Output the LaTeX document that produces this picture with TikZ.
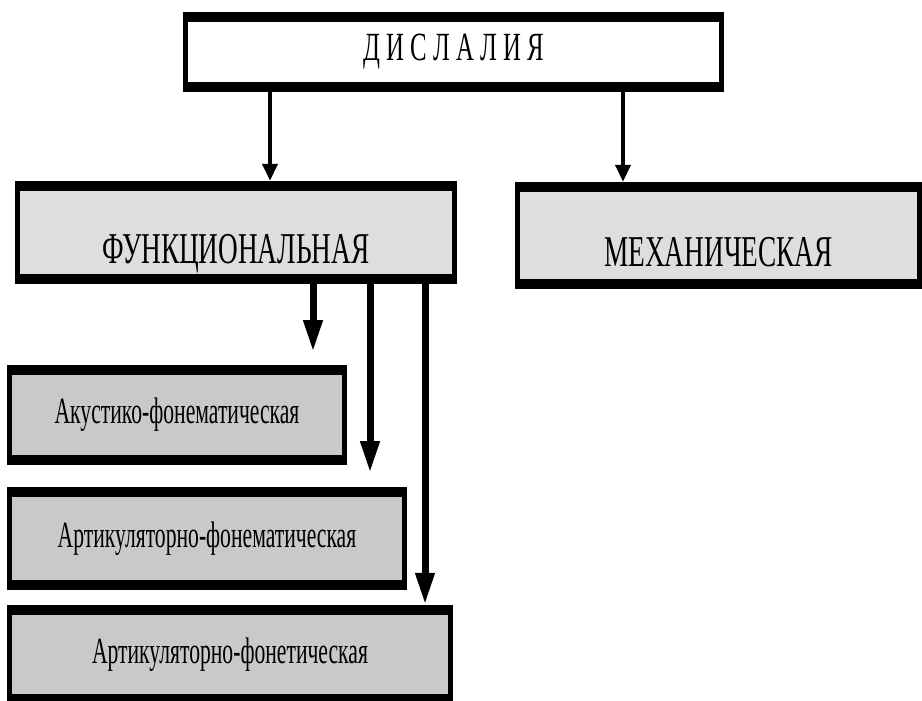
\documentclass[tikz,border=0pt]{standalone}
\usepackage{fontspec}
\setmainfont{Liberation Serif}
\newfontfamily\narrowserif[FakeStretch=0.62]{Liberation Serif}
\newfontfamily\narrowsmall[FakeStretch=0.585]{Liberation Serif}
\usetikzlibrary{arrows.meta}

\newlength{\du}
\setlength{\du}{1pt}

\definecolor{lightboxcolor}{rgb}{0.870000, 0.870000, 0.870000}
\definecolor{darkboxcolor}{rgb}{0.790000, 0.790000, 0.790000}

\tikzset{
  dlbox/.style={rectangle, fill=black, inner sep=0pt,
    path picture={\fill[#1] ([xshift=5\du,yshift=-10\du]path picture bounding box.north west)
      rectangle ([xshift=-5\du,yshift=10\du]path picture bounding box.south east);}},
  bigtext/.style={font=\narrowserif\fontsize{44\du}{44\du}\selectfont},
  smalltext/.style={font=\narrowsmall\fontsize{37\du}{37\du}\selectfont},
  lowtext/.style={text height=61\du, text depth=0\du},
  thinarrow/.style={line width=4\du, -{Triangle[width=15pt,length=17pt]}},
  thickarrow/.style={line width=7\du, -{Triangle[width=18pt,length=32pt]}}
}

\begin{document}
\begin{tikzpicture}[x=1\du, y=-1\du]
\useasboundingbox (0,0) rectangle (922,701);

% top box
\node[dlbox=white, minimum width=541\du, minimum height=80\du,
  font=\narrowserif\fontsize{40\du}{40\du}\selectfont] (dis) at (453.5,52) {Д И С Л А Л И Я};

% second row
\node[dlbox=lightboxcolor, bigtext, lowtext, minimum width=442\du, minimum height=103\du]
  (func) at (236,232.5) {ФУНКЦИОНАЛЬНАЯ};
\node[dlbox=lightboxcolor, bigtext, lowtext, minimum width=407\du, minimum height=107\du]
  (mech) at (718.5,235.5) {МЕХАНИЧЕСКАЯ};

% kinds of functional dyslalia
\node[dlbox=darkboxcolor, smalltext, minimum width=340\du, minimum height=100\du]
  (acufon) at (177,415) {Акустико-фонематическая};
\node[dlbox=darkboxcolor, smalltext, minimum width=400\du, minimum height=103\du]
  (artfonem) at (207,538.5) {Артикуляторно-фонематическая};
\node[dlbox=darkboxcolor, smalltext, minimum width=446\du, minimum height=99\du]
  (artfonet) at (230,654.5) {Артикуляторно-фонетическая};

% arrows
\coordinate (xfunc) at (270,0);
\coordinate (xmech) at (623,0);
\coordinate (xfonet) at (425,0);
\coordinate (acuend) at (313,352);
\coordinate (artend) at (370,473);

\draw[thinarrow] (dis.south -| xfunc) -- (func.north -| xfunc);
\draw[thinarrow] (dis.south -| xmech) -- (mech.north -| xmech);
\draw[thickarrow] (func.south -| acuend) -- (acuend);
\draw[thickarrow] (func.south -| artend) -- (artend);
\draw[thickarrow] (func.south -| xfonet) -- (artfonet.north -| xfonet);
\end{tikzpicture}
\end{document}
